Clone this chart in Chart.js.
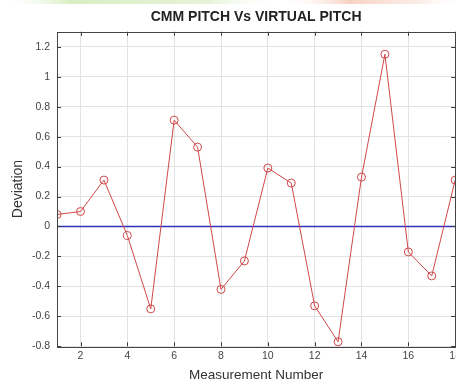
<!DOCTYPE html>
<html>
<head>
<meta charset="utf-8">
<script src="https://cdn.jsdelivr.net/npm/chart.js@4/dist/chart.umd.min.js"></script>
<style>
  html, body { margin: 0; padding: 0; background: #fff; }
  #clip { width: 456px; height: 383px; overflow: hidden; position: relative; }
  #box { width: 466px; height: 383px; position: absolute; left: 0; top: 0; }
  canvas { filter: blur(0.45px); }
</style>
</head>
<body>
<div id="clip"><div id="box"><canvas id="c"></canvas></div></div>
<script>
// Measurement index and deviation between CMM pitch and virtual pitch
const measurementNumbers = [1, 2, 3, 4, 5, 6, 7, 8, 9, 10, 11, 12, 13, 14, 15, 16, 17, 18];
const deviations = [0.08, 0.10, 0.31, -0.06, -0.55, 0.71, 0.53, -0.42, -0.23, 0.39, 0.29, -0.53, -0.77, 0.33, 1.15, -0.17, -0.33, 0.31];
const referenceLine = [0, 0];
const xTicks = [2, 4, 6, 8, 10, 12, 14, 16, 18];
const yTicks = [-0.8, -0.6, -0.4, -0.2, 0, 0.2, 0.4, 0.6, 0.8, 1, 1.2];

const FONT = "'Liberation Sans', Arial, sans-serif";

// MATLAB-style box with inward tick marks on all four sides
const boxTicks = {
  id: 'boxTicks',
  afterDraw(chart) {
    const { ctx, chartArea: a, scales: { x, y } } = chart;
    ctx.save();
    ctx.strokeStyle = '#3a3a3a';
    ctx.lineWidth = 1;
    const len = 4;
    ctx.beginPath();
    xTicks.forEach(v => {
      const px = Math.round(x.getPixelForValue(v)) + 0.5;
      ctx.moveTo(px, a.bottom); ctx.lineTo(px, a.bottom - len);
      ctx.moveTo(px, a.top); ctx.lineTo(px, a.top + len);
    });
    yTicks.forEach(v => {
      const py = Math.round(y.getPixelForValue(v)) + 0.5;
      ctx.moveTo(a.left, py); ctx.lineTo(a.left + len, py);
      ctx.moveTo(a.right, py); ctx.lineTo(a.right - len, py);
    });
    ctx.stroke();
    ctx.strokeStyle = '#444';
    ctx.strokeRect(Math.round(a.left) + 0.5, Math.round(a.top) + 0.5,
                   Math.round(a.right - a.left), Math.round(a.bottom - a.top));
    ctx.restore();
  }
};

// Faint coloured strip along the top edge
const topStrip = {
  id: 'topStrip',
  beforeDraw(chart) {
    const { ctx, width } = chart;
    ctx.save();
    const g = ctx.createLinearGradient(0, 0, width, 0);
    g.addColorStop(0.0, 'rgba(255,255,255,0)');
    g.addColorStop(0.15, 'rgba(200,230,170,0.7)');
    g.addColorStop(0.45, 'rgba(215,235,190,0.6)');
    g.addColorStop(0.6, 'rgba(255,255,255,0)');
    g.addColorStop(0.75, 'rgba(245,190,170,0.7)');
    g.addColorStop(0.9, 'rgba(245,210,195,0.4)');
    g.addColorStop(1.0, 'rgba(255,255,255,0)');
    ctx.fillStyle = g;
    ctx.fillRect(0, 0, width, 4);
    ctx.restore();
  }
};

new Chart(document.getElementById('c'), {
  type: 'line',
  data: {
    datasets: [
      {
        label: 'Deviation',
        data: measurementNumbers.map((n, i) => ({ x: n, y: deviations[i] })),
        borderColor: '#d04848',
        borderWidth: 1,
        pointStyle: 'circle',
        pointRadius: 4,
        pointBorderWidth: 1,
        pointBackgroundColor: 'rgba(0,0,0,0)',
        pointBorderColor: '#d04848',
        tension: 0
      },
      {
        label: 'Zero',
        data: [{ x: measurementNumbers[0], y: referenceLine[0] },
               { x: measurementNumbers[measurementNumbers.length - 1], y: referenceLine[1] }],
        borderColor: '#3030c0',
        borderWidth: 1.3,
        pointRadius: 0
      }
    ]
  },
  options: {
    responsive: true,
    maintainAspectRatio: false,
    animation: false,
    layout: { padding: { top: 5, left: 11, right: 0, bottom: 0 } },
    plugins: {
      legend: { display: false },
      tooltip: { enabled: false },
      title: {
        display: true,
        text: 'CMM PITCH Vs VIRTUAL PITCH',
        fullSize: false,
        color: '#222',
        font: { family: FONT, size: 14, weight: 'bold' },
        padding: { top: 4, bottom: 6 }
      }
    },
    scales: {
      x: {
        type: 'linear',
        min: 1,
        max: 18,
        afterBuildTicks: s => { s.ticks = xTicks.map(v => ({ value: v })); },
        grid: { color: '#e2e2e2', drawTicks: false },
        border: { display: false },
        ticks: { color: '#444', font: { family: FONT, size: 10.5, lineHeight: 1 }, padding: 5, maxRotation: 0, autoSkip: false },
        title: { display: true, text: 'Measurement Number', color: '#333', font: { family: FONT, size: 13.5 }, padding: { top: 0, bottom: 0 } }
      },
      y: {
        type: 'linear',
        min: -0.8,
        max: 1.3,
        afterBuildTicks: s => { s.ticks = yTicks.map(v => ({ value: v })); },
        grid: { color: '#e2e2e2', drawTicks: false },
        border: { display: false },
        ticks: {
          color: '#444', font: { family: FONT, size: 10.5 }, padding: 7, autoSkip: false,
          callback: v => String(Number(v.toFixed(1)))
        },
        title: { display: true, text: 'Deviation', color: '#333', font: { family: FONT, size: 14, lineHeight: 1 }, padding: { top: 0, bottom: 0 } }
      }
    }
  },
  plugins: [topStrip, boxTicks]
});
</script>
</body>
</html>
